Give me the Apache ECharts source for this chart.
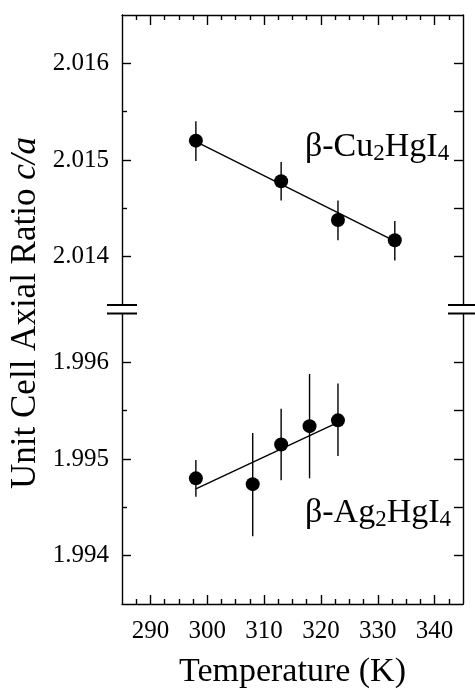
<!DOCTYPE html>
<html><head><meta charset="utf-8">
<script src="https://cdn.jsdelivr.net/npm/echarts@6/dist/echarts.min.js"></script>
<style>html,body{margin:0;padding:0;background:#fff}#c{width:475px;height:690px}</style>
</head><body><div id="c"></div>
<script>
// ---- data ----
const xMajorTicks = [290, 300, 310, 320, 330, 340];
const xMinorTicks = [287.5, 292.5, 295, 297.5, 302.5, 305, 307.5, 312.5, 315, 317.5, 322.5, 325, 327.5, 332.5, 335, 337.5, 342.5];
const yUpperMajor = [2.014, 2.015, 2.016];
const yUpperMinor = [2.0145, 2.0155];
const yLowerMajor = [1.994, 1.995, 1.996];
const yLowerMinor = [1.9945, 1.9955];

const cuT = [298, 313, 323, 333];
const cuRatio = [2.0152, 2.01478, 2.01438, 2.01417];
const cuLow = [2.01499, 2.01458, 2.01417, 2.01396];
const cuHigh = [2.01540, 2.01498, 2.01458, 2.01437];
const cuFitT = [298, 333];
const cuFit = [2.01519, 2.01416];

const agT = [298, 308, 313, 318, 323];
const agRatio = [1.99480, 1.99474, 1.99515, 1.99534, 1.99540];
const agLow = [1.99461, 1.99420, 1.99478, 1.99480, 1.99503];
const agHigh = [1.99499, 1.99527, 1.99552, 1.99588, 1.99578];
const agFitT = [298, 323];
const agFit = [1.99469, 1.99538];

const cuLabel = '{a|β-Cu}{s|2}{a|HgI}{s|4}';
const agLabel = '{a|β-Ag}{s|2}{a|HgI}{s|4}';

// ---- styles ----
const FF = '"Liberation Serif", "Times New Roman", serif';
const INK = '#000';
const LW = 1.4;

const chart = echarts.init(document.getElementById('c'), null, {renderer: 'canvas'});

const G0 = {left: 122, top: 15, width: 341, height: 290};
const G1 = {left: 122, top: 314, width: 341, height: 290};

function xAxisDef(grid, pos, ticks, len, showLine, showLabels, name) {
  const ax = {
    type: 'value', gridIndex: grid, position: pos, min: 285, max: 345,
    axisLine: {show: showLine, onZero: false, lineStyle: {color: INK, width: LW}},
    axisTick: {show: true, inside: true, length: len, customValues: ticks, lineStyle: {color: INK, width: LW}},
    axisLabel: {show: showLabels, customValues: ticks, color: INK, fontFamily: FF, fontSize: 25, margin: 15},
    splitLine: {show: false}
  };
  if (name) {
    ax.name = name; ax.nameLocation = 'middle'; ax.nameGap = 51;
    ax.nameTextStyle = {color: INK, fontFamily: FF, fontSize: 34};
  }
  return ax;
}
function yAxisDef(grid, pos, min, max, ticks, len, showLine, showLabels) {
  return {
    type: 'value', gridIndex: grid, position: pos, min: min, max: max,
    axisLine: {show: showLine, onZero: false, lineStyle: {color: INK, width: LW}},
    axisTick: {show: true, inside: true, length: len, customValues: ticks, lineStyle: {color: INK, width: LW}},
    axisLabel: {show: showLabels, customValues: ticks, color: INK, fontFamily: FF, fontSize: 25, margin: 13,
      formatter: v => Number(v).toFixed(3)},
    splitLine: {show: false}
  };
}

function errSeries(xi, yi, T, lo, hi) {
  return {
    type: 'custom', xAxisIndex: xi, yAxisIndex: yi, silent: true, z: 3,
    encode: {x: 0, y: [1, 2]},
    data: T.map((t, i) => [t, lo[i], hi[i]]),
    renderItem: (params, api) => {
      const a = api.coord([api.value(0), api.value(1)]);
      const b = api.coord([api.value(0), api.value(2)]);
      return {type: 'line', shape: {x1: a[0], y1: a[1], x2: b[0], y2: b[1]}, style: {stroke: INK, lineWidth: LW}};
    }
  };
}
function fitSeries(xi, yi, T, Y) {
  return {type: 'line', xAxisIndex: xi, yAxisIndex: yi, showSymbol: false, silent: true, z: 2,
    data: T.map((t, i) => [t, Y[i]]), lineStyle: {color: INK, width: LW}};
}
function ptSeries(xi, yi, T, Y) {
  return {type: 'scatter', xAxisIndex: xi, yAxisIndex: yi, symbol: 'circle', symbolSize: 14, z: 4,
    itemStyle: {color: INK, opacity: 1}, data: T.map((t, i) => [t, Y[i]])};
}

const labelRich = {
  a: {fontFamily: FF, fontSize: 34, lineHeight: 36, color: INK},
  s: {fontFamily: FF, fontSize: 23, lineHeight: 18, verticalAlign: 'bottom', color: INK}
};

function breakMarks(x0, x1, ya, yb) {
  return [ya, yb].map(y => ({type: 'line', silent: true, z: 10,
    shape: {x1: x0, y1: y, x2: x1, y2: y}, style: {stroke: INK, lineWidth: 2}}));
}

chart.setOption({
  animation: false,
  backgroundColor: '#fff',
  grid: [G0, G1],
  xAxis: [
    xAxisDef(0, 'top', xMajorTicks, 10, true, false),
    xAxisDef(0, 'top', xMinorTicks, 5, false, false),
    xAxisDef(1, 'bottom', xMajorTicks, 9, true, true, 'Temperature (K)'),
    xAxisDef(1, 'bottom', xMinorTicks, 5, false, false)
  ],
  yAxis: [
    yAxisDef(0, 'left', 2.0135, 2.0165, yUpperMajor, 9, true, true),
    yAxisDef(0, 'left', 2.0135, 2.0165, yUpperMinor, 5, false, false),
    yAxisDef(0, 'right', 2.0135, 2.0165, yUpperMajor, 9, true, false),
    yAxisDef(0, 'right', 2.0135, 2.0165, yUpperMinor, 9, false, false),
    yAxisDef(1, 'left', 1.9935, 1.9965, yLowerMajor, 9, true, true),
    yAxisDef(1, 'left', 1.9935, 1.9965, yLowerMinor, 5, false, false),
    yAxisDef(1, 'right', 1.9935, 1.9965, yLowerMajor, 9, true, false),
    yAxisDef(1, 'right', 1.9935, 1.9965, yLowerMinor, 9, false, false)
  ],
  series: [
    errSeries(0, 0, cuT, cuLow, cuHigh),
    fitSeries(0, 0, cuFitT, cuFit),
    ptSeries(0, 0, cuT, cuRatio),
    errSeries(2, 4, agT, agLow, agHigh),
    fitSeries(2, 4, agFitT, agFit),
    ptSeries(2, 4, agT, agRatio)
  ],
  graphic: [
    {type: 'text', x: 26, y: 313, rotation: Math.PI / 2, silent: true,
      style: {text: '{a|Unit Cell Axial Ratio }{i|c/a}', align: 'center', verticalAlign: 'middle',
        rich: {a: {fontFamily: FF, fontSize: 35, color: INK}, i: {fontFamily: FF, fontSize: 35, fontStyle: 'italic', color: INK}}}},
    {type: 'text', x: 305, y: 147, silent: true,
      style: {text: cuLabel, align: 'left', verticalAlign: 'middle', rich: labelRich}},
    {type: 'text', x: 305, y: 513, silent: true,
      style: {text: agLabel, align: 'left', verticalAlign: 'middle', rich: labelRich}},
    ...breakMarks(107, 137, 305, 313.5),
    ...breakMarks(448, 478, 305, 313.5)
  ]
});
</script>
</body></html>
